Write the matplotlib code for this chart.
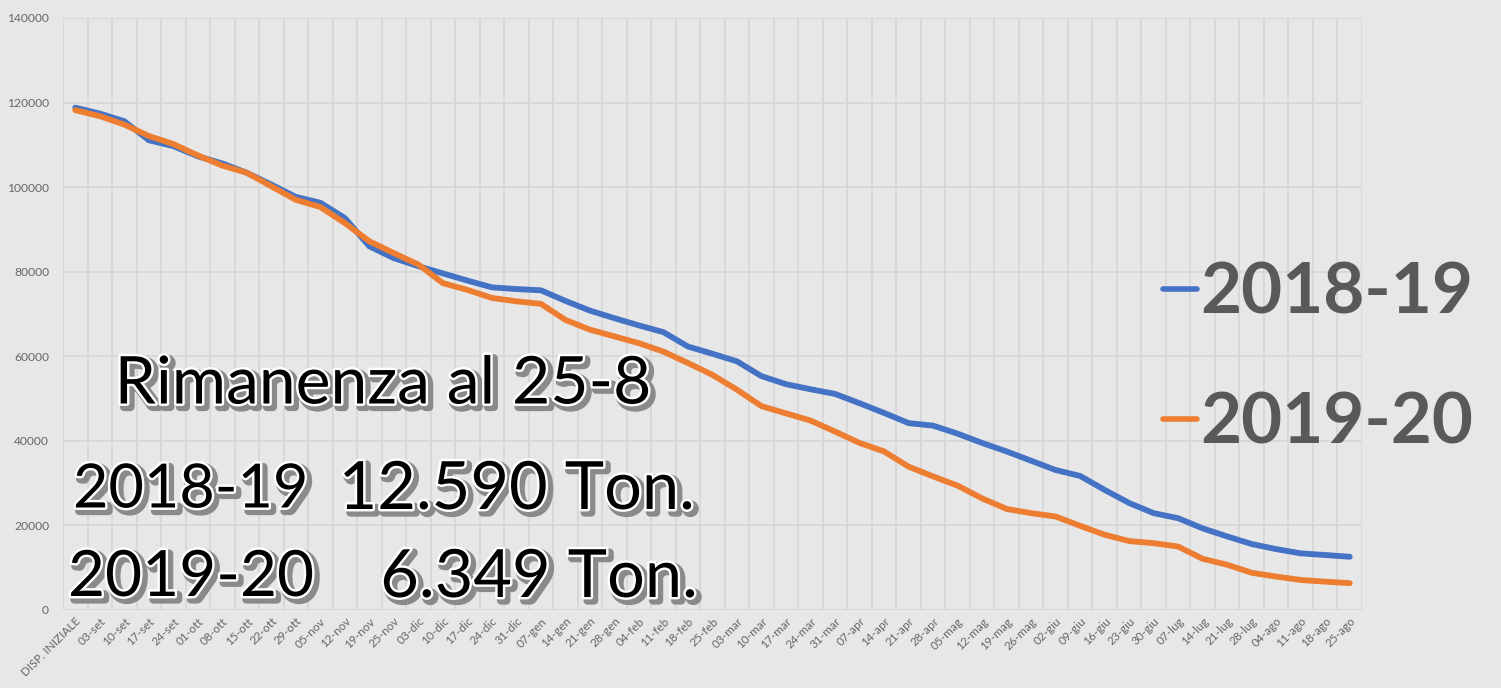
import matplotlib
matplotlib.use("Agg")
import matplotlib.pyplot as plt
import matplotlib.patheffects as pe
import numpy as np

categories = ["DISP. INIZIALE", "03-set", "10-set", "17-set", "24-set", "01-ott", "08-ott",
              "15-ott", "22-ott", "29-ott", "05-nov", "12-nov", "19-nov", "25-nov", "03-dic",
              "10-dic", "17-dic", "24-dic", "31-dic", "07-gen", "14-gen", "21-gen", "28-gen",
              "04-feb", "11-feb", "18-feb", "25-feb", "03-mar", "10-mar", "17-mar", "24-mar",
              "31-mar", "07-apr", "14-apr", "21-apr", "28-apr", "05-mag", "12-mag", "19-mag",
              "26-mag", "02-giu", "09-giu", "16-giu", "23-giu", "30-giu", "07-lug", "14-lug",
              "21-lug", "28-lug", "04-ago", "11-ago", "18-ago", "25-ago"]

s2018_19 = [118800, 117400, 115600, 111100, 109700, 107300, 105600, 103400, 100600, 97700,
            96300, 92700, 86000, 83200, 81300, 79600, 77900, 76300, 75900, 75600,
            73100, 70800, 69000, 67300, 65700, 62300, 60600, 58800, 55300, 53400,
            52200, 51100, 48900, 46600, 44200, 43600, 41700, 39500, 37500, 35300,
            33100, 31700, 28400, 25300, 22900, 21700, 19300, 17400, 15600, 14400,
            13400, 13000, 12590]

s2019_20 = [118200, 116800, 114800, 112100, 110200, 107500, 105100, 103400, 100200, 97000,
            95300, 91500, 87200, 84400, 81700, 77300, 75700, 73800, 73000, 72400,
            68600, 66300, 64700, 63100, 61100, 58400, 55600, 52100, 48200, 46500,
            44800, 42200, 39500, 37500, 33900, 31600, 29400, 26400, 23900, 22900,
            22100, 19900, 17800, 16300, 15800, 15000, 12100, 10700, 8800, 7900,
            7100, 6700, 6349]

series_names = ["2018-19", "2019-20"]
yticks = [0, 20000, 40000, 60000, 80000, 100000, 120000, 140000]

BG = "#e7e7e7"
GRID = "#d6d6d6"
W, H = 1501, 688

fig = plt.figure(figsize=(W / 100, H / 100), dpi=100, facecolor=BG)
ax = fig.add_axes([63 / W, (H - 610) / H, 1299 / W, 592 / H], facecolor=BG)

x = np.arange(len(categories))
ax.plot(x, s2018_19, color="#4472C4", lw=4.2, solid_capstyle="round",
        solid_joinstyle="round", label=series_names[0], zorder=3)
ax.plot(x, s2019_20, color="#ED7D31", lw=4.2, solid_capstyle="round",
        solid_joinstyle="round", label=series_names[1], zorder=4)

ax.set_xlim(-0.5, len(categories) - 0.5)
ax.set_ylim(0, 140000)
ax.set_yticks(yticks)
ax.set_yticklabels([str(v) for v in yticks])
ax.set_xticks(x)
ax.set_xticklabels(categories, rotation=45, ha="right", rotation_mode="anchor")
ax.set_xticks(np.arange(-0.5, len(categories), 1), minor=True)

ax.grid(axis="y", which="major", color=GRID, lw=1.2)
ax.grid(axis="x", which="minor", color=GRID, lw=1.2)
ax.set_axisbelow(True)
for sp in ax.spines.values():
    sp.set_visible(False)
ax.tick_params(axis="both", which="both", length=0, colors="#666666")
ax.tick_params(axis="y", labelsize=8.7, pad=10)
ax.tick_params(axis="x", labelsize=8.5, pad=4)
for lbl in ax.get_xticklabels() + ax.get_yticklabels():
    lbl.set_fontfamily("Lato")

leg = ax.legend(loc="center left", bbox_to_anchor=(1163 / W, 1 - 358 / H),
                bbox_transform=fig.transFigure, frameon=False,
                prop={"family": "Lato", "weight": "bold", "size": 51},
                handlelength=0.48, handletextpad=0.05, labelspacing=0.92,
                borderpad=0, borderaxespad=0)
for t in leg.get_texts():
    t.set_color("#595959")
for h in leg.get_lines():
    h.set_linewidth(4)

effects = [pe.Stroke(linewidth=6, foreground="#8a8a8a", offset=(2.5, -2.5)),
           pe.Stroke(linewidth=3.5, foreground="white"),
           pe.Normal()]

fig.text(383 / W, 1 - 385 / H, "Rimanenza al 25-8", ha="center", va="center",
         fontsize=47.5, family="Lato", color="black", path_effects=effects)
fig.text(73 / W, 1 - 490 / H, "2018-19", ha="left", va="center",
         fontsize=44, family="Lato", color="black", path_effects=effects)
fig.text(695 / W, 1 - 490 / H, "12.590 Ton.", ha="right", va="center",
         fontsize=48, family="Lato", color="black", path_effects=effects)
fig.text(68 / W, 1 - 578 / H, "2019-20", ha="left", va="center",
         fontsize=46, family="Lato", color="black", path_effects=effects)
fig.text(698 / W, 1 - 578 / H, "6.349 Ton.", ha="right", va="center",
         fontsize=48, family="Lato", color="black", path_effects=effects)

fig.savefig("out.png", dpi=100, facecolor=BG)
